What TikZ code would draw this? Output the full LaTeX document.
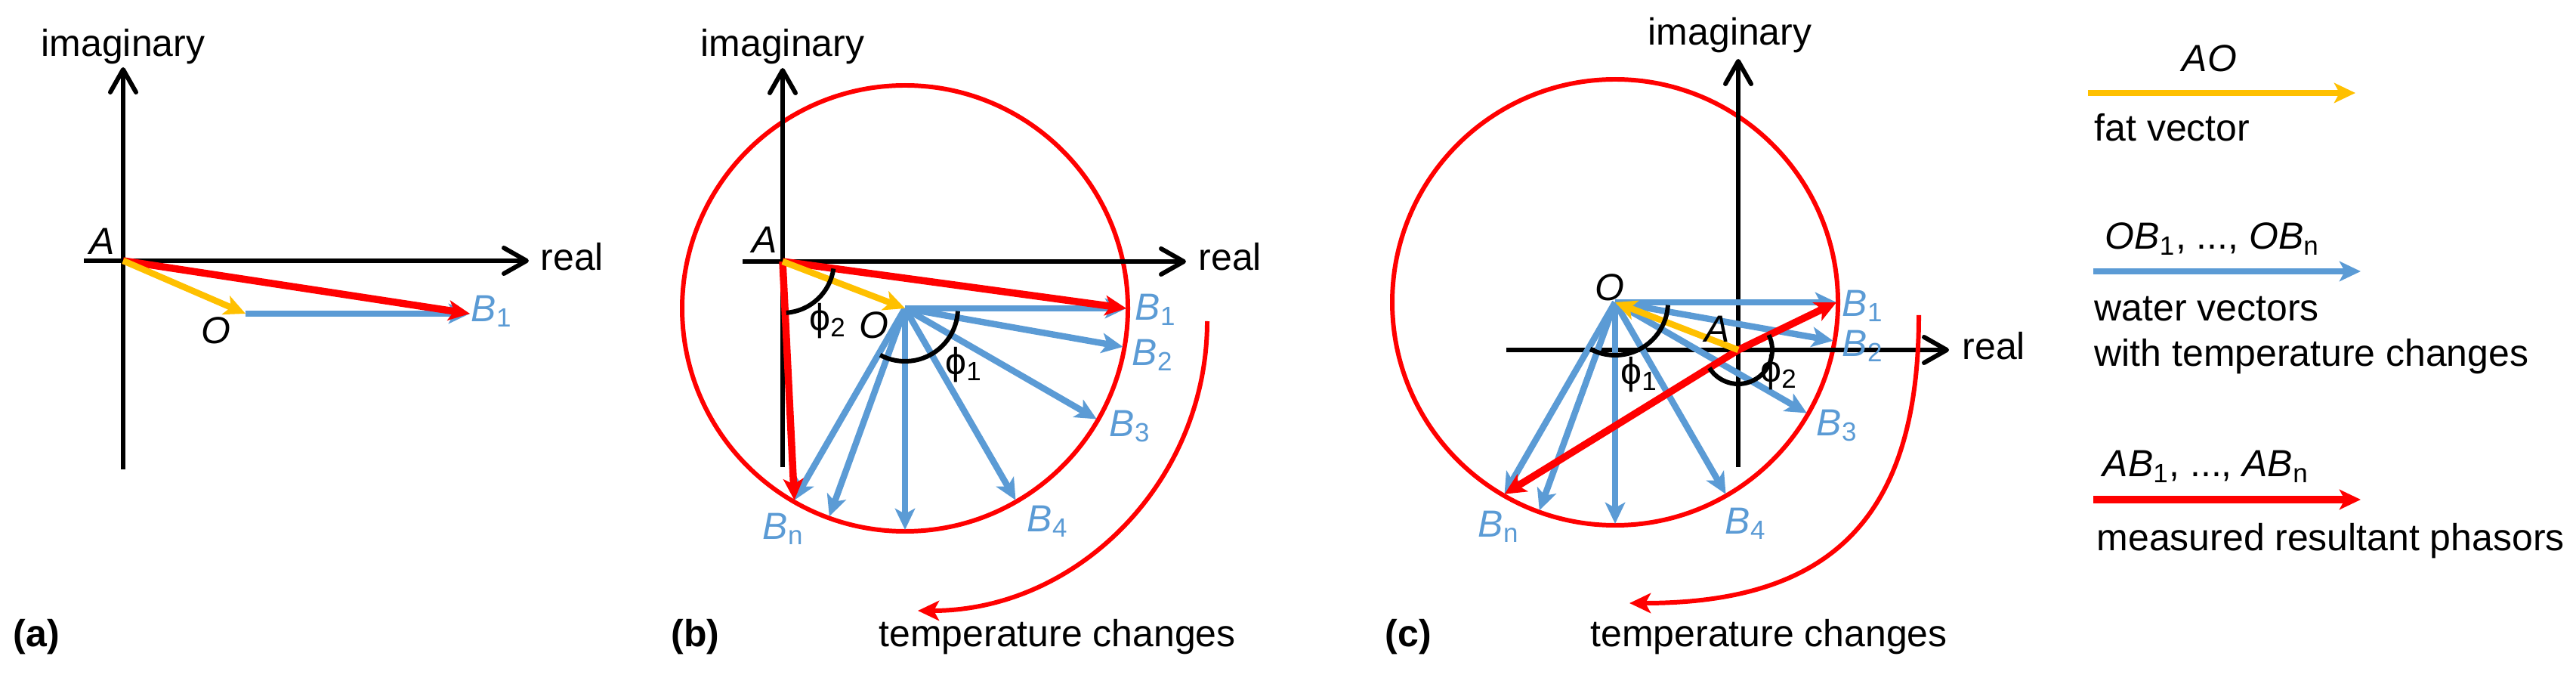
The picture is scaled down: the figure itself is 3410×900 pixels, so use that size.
\documentclass[tikz,border=0pt]{standalone}
\usepackage{fontspec}
\setmainfont{Liberation Sans}
\usetikzlibrary{arrows.meta}

\definecolor{fatyellow}{RGB}{255,192,0}
\definecolor{waterblue}{RGB}{91,155,213}
\definecolor{phasorred}{RGB}{255,0,0}

\newcommand{\ptB}[1]{\textit{B}\textsubscript{#1}}
\newcommand{\phase}[1]{\symbol{"03D5}\textsubscript{#1}}

\tikzset{
    every node/.style={font=\fontsize{14.2}{17}\selectfont, inner sep=0pt},
    axisline/.style={line width=1.7pt, -{Straight Barb[length=3mm,width=3.4mm,round]}},
    vecline/.style={line width=2.4pt, -{Stealth[length=8pt,width=7.5pt,inset=2pt]}},
    fatvec/.style={vecline, color=fatyellow},
    watervec/.style={vecline, color=waterblue},
    phasorvec/.style={vecline, color=phasorred, line width=2.7pt},
    locus/.style={color=phasorred, line width=1.7pt},
    turnarrow/.style={locus, -{Stealth[length=8pt,width=7.5pt,inset=2pt]}},
    anglearc/.style={line width=1.7pt},
    blabel/.style={text=waterblue},
}

\begin{document}
\begin{tikzpicture}[x=0.01cm, y=0.01cm]
    \useasboundingbox (0,0) rectangle (3410,900);

    % Radius of the water vector circle and of the temperature turn
    \def\circR{293}
    \def\turnR{383}

    % ---------------- (a) ----------------
    \coordinate (aA) at (163,555);
    \coordinate (aO) at (325,485);
    \coordinate (aB1) at (622,485);
    \coordinate (aXl) at (111,555);
    \coordinate (aXr) at (700,555);
    \coordinate (aYb) at (163,279);
    \coordinate (aYt) at (163,811);

    % Draw the axes
    \draw[axisline] (aXl) -- (aXr);
    \draw[axisline] (aYb) -- (aYt);

    % Draw the vectors
    \draw[watervec] (aO) -- (aB1);
    \draw[phasorvec] (aA) -- (aB1);
    \draw[fatvec] (aA) -- (aO);

    % Add labels
    \node[anchor=base] (aimag) at (163,825) {imaginary};
    \node[anchor=base west] (areal) at (715,542) {real};
    \node[anchor=base east] (aAlab) at (153,563) {\textit{A}};
    \node (aOlab) at (286,463) {\textit{O}};
    \node[blabel] (aB1lab) at (651,488) {\ptB{1}};
    \node[anchor=base west] (acap) at (17,45) {\textbf{(a)}};

    % ---------------- (b) ----------------
    \coordinate (bA) at (1036,554);
    \coordinate (bO) at (1198,492);
    \coordinate (bXl) at (983,554);
    \coordinate (bXr) at (1570,554);
    \coordinate (bYb) at (1036,282);
    \coordinate (bYt) at (1036,810);

    % Draw the circle of the water vector tips
    \draw[locus] (bO) circle[radius=295];

    % Draw the axes
    \draw[axisline] (bXl) -- (bXr);
    \draw[axisline] (bYb) -- (bYt);

    % Draw the water vectors
    \foreach \ang/\k in {0/1,-10/2,-30/3,-60/4,-90/5,-110/6,-120/n} {
        \coordinate (bB\k) at ([shift={(\ang:\circR)}]bO);
        \draw[watervec] (bO) -- (bB\k);
    }

    % Draw the resultant phasors and the fat vector
    \draw[phasorvec] (bA) -- (bB1);
    \draw[phasorvec] (bA) -- (bBn);
    \draw[fatvec] (bA) -- (bO);

    % Draw the angles
    \draw[anglearc] ([shift={(-3:70)}]bO) arc[start angle=-3, end angle=-118, radius=70];
    \draw[anglearc] ([shift={(-8:68)}]bA) arc[start angle=-8, end angle=-86, radius=68];

    % Draw the temperature turn
    \coordinate (bT) at (1598,475);
    \draw[turnarrow] (bT) arc[start angle=0, end angle=-90, radius=\turnR];

    % Add labels
    \node[anchor=base] (bimag) at (1036,825) {imaginary};
    \node[anchor=base west] (breal) at (1586,542) {real};
    \node[anchor=base east] (bAlab) at (1029,565) {\textit{A}};
    \node (bOlab) at (1157,470) {\textit{O}};
    \node (bphi1) at (1276,417) {\phase{1}};
    \node (bphi2) at (1096,475) {\phase{2}};
    \node[blabel] (bB1lab) at (1530,490) {\ptB{1}};
    \node[blabel] (bB2lab) at (1526,430) {\ptB{2}};
    \node[blabel] (bB3lab) at (1496,336) {\ptB{3}};
    \node[blabel] (bB4lab) at (1387,210) {\ptB{4}};
    \node[blabel] (bBnlab) at (1037,200) {\ptB{n}};
    \node[anchor=base west] (btemp) at (1163,45) {temperature changes};
    \node[anchor=base west] (bcap) at (888,45) {\textbf{(b)}};

    % ---------------- (c) ----------------
    \coordinate (cA) at (2301,437);
    \coordinate (cO) at (2138,500);
    \coordinate (cXl) at (1994,437);
    \coordinate (cXr) at (2580,437);
    \coordinate (cYb) at (2301,282);
    \coordinate (cYt) at (2301,822);

    % Draw the circle of the water vector tips
    \draw[locus] (cO) circle[radius=295];

    % Draw the axes
    \draw[axisline] (cXl) -- (cXr);
    \draw[axisline] (cYb) -- (cYt);

    % Draw the water vectors
    \foreach \ang/\k in {0/1,-10/2,-30/3,-60/4,-90/5,-110/6,-120/n} {
        \coordinate (cB\k) at ([shift={(\ang:\circR)}]cO);
        \draw[watervec] (cO) -- (cB\k);
    }

    % Draw the resultant phasors and the fat vector
    \draw[phasorvec] (cA) -- (cB1);
    \draw[phasorvec] (cA) -- (cBn);
    \draw[fatvec] (cA) -- (cO);

    % Draw the angles
    \draw[anglearc] ([shift={(-3:70)}]cO) arc[start angle=-3, end angle=-118, radius=70];
    \draw[anglearc] ([shift={(26:45)}]cA) arc[start angle=26, end angle=-148, radius=45];

    % Draw the temperature turn
    \coordinate (cT1) at (2540,483);
    \coordinate (cT2) at (2157,102);
    \draw[turnarrow] (cT1) .. controls (2540,216) and (2425,102) .. (cT2);

    % Add labels
    \node[anchor=base] (cimag) at (2290,840) {imaginary};
    \node[anchor=base west] (creal) at (2597,424) {real};
    \node[anchor=base east] (cAlab) at (2290,447) {\textit{A}};
    \node (cOlab) at (2131,520) {\textit{O}};
    \node (cphi1) at (2170,404) {\phase{1}};
    \node (cphi2) at (2355,407) {\phase{2}};
    \node[blabel] (cB1lab) at (2466,495) {\ptB{1}};
    \node[blabel] (cB2lab) at (2466,442) {\ptB{2}};
    \node[blabel] (cB3lab) at (2432,337) {\ptB{3}};
    \node[blabel] (cB4lab) at (2311,207) {\ptB{4}};
    \node[blabel] (cBnlab) at (1984,203) {\ptB{n}};
    \node[anchor=base west] (ctemp) at (2105,45) {temperature changes};
    \node[anchor=base west] (ccap) at (1833,45) {\textbf{(c)}};

    % ---------------- legend ----------------
    \coordinate (lgFatS) at (2764,777);
    \coordinate (lgFatE) at (3118,777);
    \coordinate (lgWatS) at (2771,541);
    \coordinate (lgWatE) at (3125,541);
    \coordinate (lgResS) at (2771,239);
    \coordinate (lgResE) at (3125,239);

    \draw[fatvec] (lgFatS) -- (lgFatE);
    \draw[watervec] (lgWatS) -- (lgWatE);
    \draw[phasorvec] (lgResS) -- (lgResE);

    \node[anchor=base] (lgAO) at (2925,805) {\textit{AO}};
    \node[anchor=base west] (lgFat) at (2772,713) {fat vector};
    \node[anchor=base west] (lgOB) at (2786,570) {\textit{OB}\textsubscript{1}, ..., \textit{OB}\textsubscript{n}};
    \node[anchor=base west] (lgWat) at (2772,475) {water vectors};
    \node[anchor=base west] (lgWat2) at (2772,415) {with temperature changes};
    \node[anchor=base west] (lgAB) at (2783,269) {\textit{AB}\textsubscript{1}, ..., \textit{AB}\textsubscript{n}};
    \node[anchor=base west] (lgRes) at (2775,171) {measured resultant phasors};

\end{tikzpicture}
\end{document}
